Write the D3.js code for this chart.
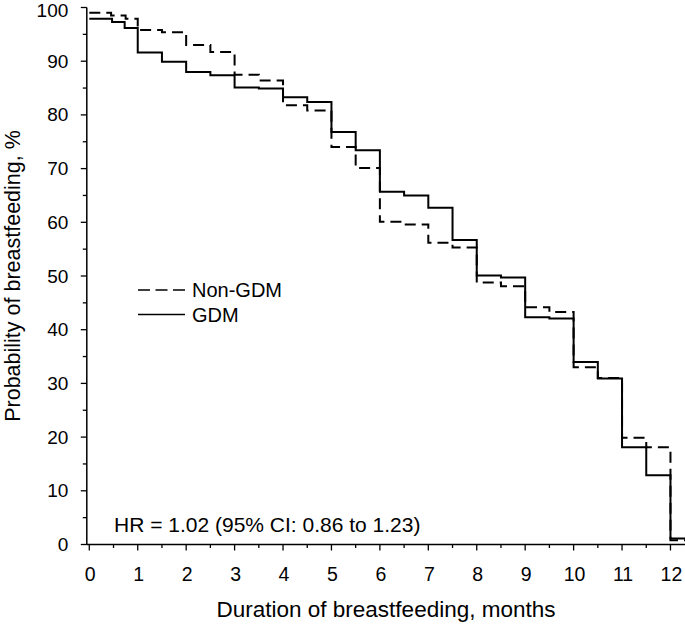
<!DOCTYPE html>
<html>
<head>
<meta charset="utf-8">
<script src="https://cdn.jsdelivr.net/npm/d3@7"></script>
<style>
  body { margin: 0; background: #fff; }
  text { font-family: "Liberation Sans", Arial, sans-serif; fill: #000; }
</style>
</head>
<body>
<script>
// Data (Kaplan-Meier steps)
const gdmTimes = [0, 0.47, 0.73, 1, 1.5, 2, 2.5, 3, 3.5, 4, 4.5, 5, 5.5, 6, 6.5, 7, 7.5, 8, 8.5, 9, 9.5, 10, 10.5, 11, 11.5, 12];
const gdmValues = [97.9, 97.3, 96.2, 91.6, 89.9, 88.0, 87.4, 85.1, 84.9, 83.3, 82.4, 76.8, 73.4, 65.7, 65.0, 62.7, 56.7, 50.1, 49.7, 42.3, 42.1, 34.0, 30.9, 18.1, 12.9, 1.1];
const nonGdmTimes = [0, 0.45, 0.75, 1, 1.5, 2, 2.5, 3, 3.5, 4, 4.5, 5, 5.5, 6, 6.5, 7, 7.5, 8, 8.5, 9, 9.5, 10, 10.5, 11, 11.5, 12];
const nonGdmValues = [99.0, 98.5, 97.9, 95.8, 95.4, 93.0, 91.7, 87.5, 86.4, 81.8, 80.8, 74.0, 70.1, 60.1, 59.6, 56.2, 55.3, 48.8, 48.1, 44.2, 43.3, 33.0, 31.0, 19.9, 18.1, 0.8];
const xTicks = [0, 1, 2, 3, 4, 5, 6, 7, 8, 9, 10, 11, 12];
const yTicks = [0, 10, 20, 30, 40, 50, 60, 70, 80, 90, 100];
const seriesNames = ["Non-GDM", "GDM"];
const hrLabel = "HR = 1.02 (95% CI: 0.86 to 1.23)";

const width = 685, height = 624;
const xMax = 12.3;

const svg = d3.select("body").append("svg")
    .attr("width", width)
    .attr("height", height);

const x = d3.scaleLinear().domain([0, xMax]).range([89.3, 685]);
const y = d3.scaleLinear().domain([0, 100]).range([544.5, 7.5]);
const axisX = x(0) - 2.5; // y axis sits just left of month 0

// X axis
const xAxis = svg.append("g").attr("transform", `translate(0,${y(0)})`);
xAxis.append("line")
    .attr("x1", axisX).attr("x2", x(xMax))
    .attr("stroke", "#000").attr("stroke-width", 1.5);
xAxis.selectAll(".tick")
    .data(d3.range(0, 12.01, 0.5))
    .enter().append("line")
    .attr("x1", d => x(d)).attr("x2", d => x(d))
    .attr("y1", 0).attr("y2", d => Number.isInteger(d) ? 6 : 3.5)
    .attr("stroke", "#000").attr("stroke-width", 1.3);
xAxis.selectAll(".lab")
    .data(xTicks)
    .enter().append("text")
    .attr("x", d => x(d) + 1).attr("y", 36)
    .attr("text-anchor", "middle")
    .attr("font-size", 19.5)
    .text(d => d);

// Y axis
const yAxis = svg.append("g").attr("transform", `translate(${axisX},0)`);
yAxis.append("line")
    .attr("y1", y(0)).attr("y2", y(100))
    .attr("stroke", "#000").attr("stroke-width", 1.5);
yAxis.selectAll(".tick")
    .data(d3.range(0, 100.1, 5))
    .enter().append("line")
    .attr("y1", d => y(d)).attr("y2", d => y(d))
    .attr("x1", 0).attr("x2", d => d % 10 === 0 ? -6 : -4)
    .attr("stroke", "#000").attr("stroke-width", 1.3);
yAxis.selectAll(".lab")
    .data(yTicks)
    .enter().append("text")
    .attr("x", -18.5).attr("y", d => Math.max(y(d) + 6.5, 17))
    .attr("text-anchor", "end")
    .attr("font-size", 19)
    .text(d => d);

// Axis titles
svg.append("text")
    .attr("x", 386).attr("y", 617)
    .attr("text-anchor", "middle")
    .attr("font-size", 22.5)
    .text("Duration of breastfeeding, months");
svg.append("text")
    .attr("transform", `translate(20,${y(50)}) rotate(-90)`)
    .attr("text-anchor", "middle")
    .attr("font-size", 21.5)
    .text("Probability of breastfeeding, %");

// Step curves
const line = d3.line()
    .x(d => x(d[0]))
    .y(d => y(d[1]))
    .curve(d3.curveStepAfter);

function steps(times, values) {
    const pts = times.map((t, i) => [t, values[i]]);
    pts.push([xMax, values[values.length - 1]]);
    return pts;
}

svg.append("path")
    .attr("d", line(steps(nonGdmTimes, nonGdmValues)))
    .attr("fill", "none")
    .attr("stroke", "#000")
    .attr("stroke-width", 2)
    .attr("stroke-dasharray", "11,6");

svg.append("path")
    .attr("d", line(steps(gdmTimes, gdmValues)))
    .attr("fill", "none")
    .attr("stroke", "#000")
    .attr("stroke-width", 2);

// Legend
const legend = svg.append("g");
seriesNames.forEach((name, i) => {
    const ly = 290 + i * 24.5;
    legend.append("line")
        .attr("x1", 138).attr("x2", 185)
        .attr("y1", ly).attr("y2", ly)
        .attr("stroke", "#000")
        .attr("stroke-width", 1.5)
        .attr("stroke-dasharray", i === 0 ? "12,5.5" : null);
    legend.append("text")
        .attr("x", 192).attr("y", ly + 7)
        .attr("font-size", 20)
        .text(name);
});

// HR annotation
svg.append("text")
    .attr("x", 114).attr("y", 532)
    .attr("font-size", 21)
    .text(hrLabel);
</script>
</body>
</html>
